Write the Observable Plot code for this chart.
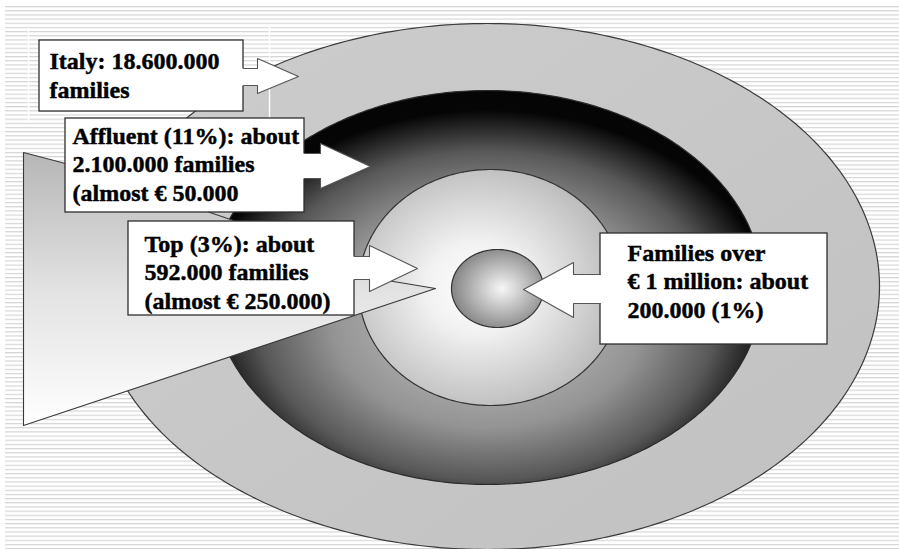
<!DOCTYPE html>
<html>
<head>
<meta charset="utf-8">
<script src="https://cdn.jsdelivr.net/npm/d3@7"></script>
<script src="https://cdn.jsdelivr.net/npm/@observablehq/plot@0.6"></script>
<style>
  html, body { margin: 0; padding: 0; background: #ffffff; }
  #chart { width: 899px; height: 549px; }
</style>
</head>
<body>
<svg width="0" height="0" style="position:absolute">
  <defs>
    <pattern id="stripes" patternUnits="userSpaceOnUse" x="0" y="6" width="20" height="4.17">
      <rect x="0" y="0" width="20" height="1" fill="#d4d4d4"/>
      <rect x="0" y="1" width="20" height="0.7" fill="#ececec"/>
    </pattern>
    <linearGradient id="gOuter" x1="0" y1="0" x2="1" y2="1">
      <stop offset="0" stop-color="#cdcdcd"/>
      <stop offset="1" stop-color="#c1c1c1"/>
    </linearGradient>
    <radialGradient id="gDark" cx="0.5" cy="0.57" r="0.52">
      <stop offset="0" stop-color="#d0d0d0"/>
      <stop offset="0.55" stop-color="#939393"/>
      <stop offset="0.8" stop-color="#585858"/>
      <stop offset="1" stop-color="#050505"/>
    </radialGradient>
    <radialGradient id="gMid" cx="0.45" cy="0.5" r="0.56">
      <stop offset="0" stop-color="#ffffff"/>
      <stop offset="0.35" stop-color="#f1f1f1"/>
      <stop offset="1" stop-color="#b8b8b8"/>
    </radialGradient>
    <radialGradient id="gInner" cx="0.55" cy="0.5" r="0.6">
      <stop offset="0" stop-color="#f7f7f7"/>
      <stop offset="1" stop-color="#7a7a7a"/>
    </radialGradient>
    <linearGradient id="gWedge" x1="0" y1="0" x2="0" y2="1">
      <stop offset="0" stop-color="#b6b6b6"/>
      <stop offset="0.5" stop-color="#e2e2e2"/>
      <stop offset="1" stop-color="#ffffff"/>
    </linearGradient>
  </defs>
</svg>
<div id="chart"></div>
<script>
// ---- data ----
const segments = ["Italy", "Affluent", "Top", "Over € 1 million"];
const families = [18600000, 2100000, 592000, 200000];
const shares = [100, 11, 3, 1];
const labels = [
  "Italy: 18.600.000\nfamilies",
  "Affluent (11%): about\n2.100.000 families\n(almost € 50.000",
  "Top (3%): about\n592.000 families\n(almost € 250.000)",
  "Families over\n€ 1 million: about\n200.000 (1%)"
];

// ---- layout of the diagram (pixel units) ----
const ringCx = [487, 487, 490, 497];
const ringCy = [286, 287, 287, 288];
const ringRx = [392, 275, 132, 46];
const ringRy = [263, 197, 118, 39];
const ringFill = ["url(#gOuter)", "url(#gDark)", "url(#gMid)", "url(#gInner)"];
const ringStroke = ["#3a3a3a", "#2a2a2a", "#333333", "#333333"];

const boxX1 = [39, 65, 128, 600];
const boxX2 = [243, 304, 354, 827];
const boxY1 = [40, 118, 221, 233];
const boxY2 = [111, 212, 315, 344];
const textX = [49, 72, 144, 627];
const textLastBaseline = [97, 200, 308, 317];

// arrows: base x (box edge), neck x, stem y1/y2, head y1/y2, tip x/y
const arrowBase = [243, 304, 354, 600];
const arrowNeck = [257, 320, 369, 573];
const arrowStem1 = [68, 153, 256, 274];
const arrowStem2 = [85, 178, 279, 303];
const arrowHead1 = [58, 143, 245, 262];
const arrowHead2 = [93, 188, 291, 317];
const arrowTipX = [298, 370, 417, 523];
const arrowTipY = [76, 166, 268, 289];

const wedgeX = [23, 65, 233, 369, 435, 23];
const wedgeY = [152, 163, 220, 277, 288, 425];

const whiteLineX = [28, 269];
const whiteLineY1 = [28, 27];
const whiteLineY2 = [122, 120];

// ---- derived tables ----
const ellipse = (i) => d3.range(0, 360, 1).map(a => ({
  x: ringCx[i] + ringRx[i] * Math.cos(a * Math.PI / 180),
  y: ringCy[i] + ringRy[i] * Math.sin(a * Math.PI / 180)
}));

const arrowOutline = (i) => [
  [arrowBase[i], arrowStem1[i]], [arrowNeck[i], arrowStem1[i]], [arrowNeck[i], arrowHead1[i]],
  [arrowTipX[i], arrowTipY[i]],
  [arrowNeck[i], arrowHead2[i]], [arrowNeck[i], arrowStem2[i]], [arrowBase[i], arrowStem2[i]]
].map(([x, y]) => ({x, y, k: i}));
const arrowFill = (i) => {
  const dir = arrowTipX[i] > arrowBase[i] ? 1 : -1;
  const pts = arrowOutline(i);
  return [{x: arrowBase[i] - 3 * dir, y: arrowStem1[i], k: i}, ...pts, {x: arrowBase[i] - 3 * dir, y: arrowStem2[i], k: i}];
};

const boxes = segments.map((s, i) => ({
  name: s, families: families[i], share: shares[i], label: labels[i],
  x1: boxX1[i], x2: boxX2[i], y1: boxY1[i], y2: boxY2[i],
  tx: textX[i], ty: textLastBaseline[i]
}));
const wedge = wedgeX.map((x, i) => ({x, y: wedgeY[i]}));
const whiteLines = whiteLineX.map((x, i) => ({x, y1: whiteLineY1[i], y2: whiteLineY2[i]}));

const marks = [
  Plot.rect([{x1: 5, x2: 899, y1: 6, y2: 549}], {x1: "x1", x2: "x2", y1: "y1", y2: "y2", fill: "url(#stripes)"})
];
for (let i = 0; i < 4; ++i) {
  marks.push(Plot.line(ellipse(i), {x: "x", y: "y", curve: "linear-closed", fill: ringFill[i], stroke: ringStroke[i], strokeWidth: 1.2}));
}
marks.push(Plot.line(wedge, {x: "x", y: "y", curve: "linear-closed", fill: "url(#gWedge)", stroke: "#3a3a3a", strokeWidth: 1.1}));
marks.push(Plot.ruleX(whiteLines, {x: "x", y1: "y1", y2: "y2", stroke: "#ffffff", strokeWidth: 1.4}));
marks.push(Plot.rect(boxes, {x1: "x1", x2: "x2", y1: "y1", y2: "y2", fill: "#ffffff", stroke: "#2e2e2e", strokeWidth: 1.3}));
for (let i = 0; i < 4; ++i) {
  marks.push(Plot.line(arrowFill(i), {x: "x", y: "y", curve: "linear-closed", fill: "#ffffff", stroke: "none"}));
  marks.push(Plot.line(arrowOutline(i), {x: "x", y: "y", stroke: "#555555", strokeWidth: 1.1}));
}
marks.push(Plot.text(boxes, {
  x: "tx", y: "ty", text: "label", textAnchor: "start", lineAnchor: "bottom", lineHeight: 1.18,
  fontSize: 24, fontWeight: "bold", fontFamily: "Liberation Serif", fill: "#000000",
  stroke: "#000000", strokeWidth: 0.45
}));

const chart = Plot.plot({
  width: 899, height: 549, margin: 0,
  x: {domain: [0, 899], range: [0, 899], axis: null},
  y: {domain: [0, 549], range: [0, 549], axis: null},
  style: {background: "transparent", overflow: "hidden"},
  marks
});
document.getElementById("chart").appendChild(chart);
</script>
</body>
</html>
